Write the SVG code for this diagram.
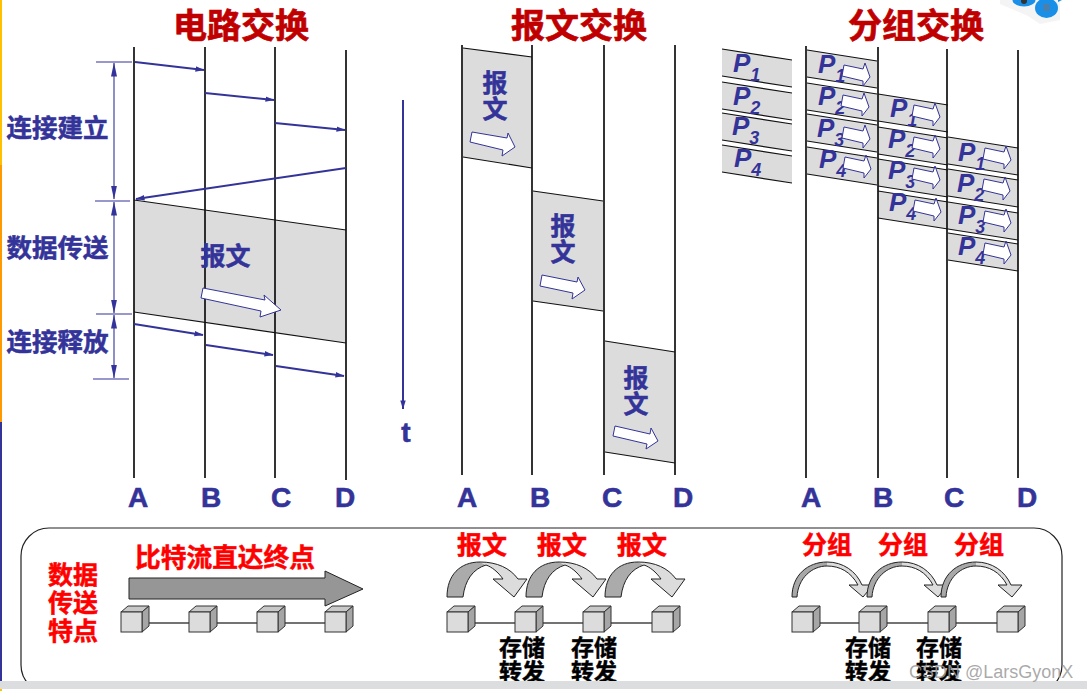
<svg xmlns="http://www.w3.org/2000/svg" width="1087" height="691" viewBox="0 0 1087 691">
<style>
.cjk{font-family:"Noto Sans CJK SC","Noto Sans",sans-serif;font-weight:700;text-anchor:middle}
.title{font-size:34px;fill:#c00000;stroke:#c00000;stroke-width:.7}
.side{font-size:25.5px;fill:#333399;stroke:#333399;stroke-width:.5}
.msg{font-size:25px;fill:#333399;stroke:#333399;stroke-width:.5}
.red{font-size:25px;fill:#ff0000;stroke:#ff0000;stroke-width:.5}
.redw{font-size:25.7px}
.blk{font-size:23px;fill:#000;stroke:#000;stroke-width:.4}
.let{font-family:"Liberation Sans",Arial,sans-serif;font-weight:700;font-size:28px;fill:#333399;stroke:#333399;stroke-width:.6;text-anchor:middle}
.p{font-family:"Liberation Sans",Arial,sans-serif;font-weight:700;font-style:italic;font-size:26px;fill:#333399}
.p tspan{font-size:18px}
.v{stroke:#111;stroke-width:1.7;fill:none}
.blue{stroke:#333399;stroke-width:2;fill:none}
.thin{stroke:#333399;stroke-width:1.1;fill:none}
.edge{stroke:#111;stroke-width:1.2;fill:none}
.fillg{fill:#dcdcdc}
.wa{fill:#fff;stroke:#333399;stroke-width:1}
.link{stroke:#444;stroke-width:1.3}
</style>
<defs>
<marker id="ah" viewBox="0 0 10 6" refX="9.5" refY="3" markerWidth="9" markerHeight="6" orient="auto" markerUnits="userSpaceOnUse"><path d="M0,0L10,3L0,6Z" fill="#333399"/></marker>
<marker id="ahd" viewBox="0 0 14 6" refX="13.5" refY="3" markerWidth="14" markerHeight="6" orient="auto" markerUnits="userSpaceOnUse"><path d="M0,0L14,3L0,6Z" fill="#333399"/></marker>
<marker id="ahds" viewBox="0 0 14 6" refX="0.5" refY="3" markerWidth="14" markerHeight="6" orient="auto" markerUnits="userSpaceOnUse"><path d="M14,0L0,3L14,6Z" fill="#333399"/></marker>
<g id="pkt"><polygon class="fillg" points="0,0 70,11 70,38 0,27"/><path class="edge" d="M0,0L70,11M0,27L70,38"/></g>
<polygon id="sa" class="wa" points="37,15 56,19 58,13 63,27 56,36 56,31 35,26"/>
<g id="cube">
<polygon points="0,6 7,0 28,0 21,6" fill="#c8c8c8" stroke="#333" stroke-width="1"/>
<polygon points="21,6 28,0 28,20 21,26" fill="#a6a6a6" stroke="#333" stroke-width="1"/>
<rect x="0" y="6" width="21" height="20" fill="#dcdcdc" stroke="#333" stroke-width="1"/>
</g>
<g id="carc">
<path d="M447,597C447,575 460,562 480,562L486,565C473,569 465,580 463,597Z" fill="#ababab"/>
<path d="M480,562C497,562 510,568 518,579L527,579L514,597L493,579L503,579C498,572 492,567 486,565Z" fill="#dcdcdc"/>
<path d="M447,597C447,575 460,562 480,562C497,562 510,568 518,579L527,579L514,597L493,579L503,579C498,572 492,567 486,565C473,569 465,580 463,597Z" fill="none" stroke="#222" stroke-width="1"/>
</g>
<g id="parc">
<path d="M792,597C792,575 808,562 827,562L827,566C812,566 798,578 797,597Z" fill="#a8a8a8"/>
<path d="M827,562C843,562 856,571 862,585L873,585L863,597L849,585L858,585C851,572 840,566 827,566Z" fill="#dcdcdc"/>
<path d="M792,597C792,575 808,562 827,562C843,562 856,571 862,585L873,585L863,597L849,585L858,585C851,572 840,566 827,566C812,566 798,578 797,597Z" fill="none" stroke="#222" stroke-width="1"/>
</g>
</defs>
<rect width="1087" height="691" fill="#fff"/>

<g id="slide-edge">
<rect x="0" y="0" width="2" height="165" fill="#ffc000"/>
<rect x="0" y="165" width="2" height="257" fill="#ff9900"/>
<rect x="0" y="422" width="2" height="259" fill="#333399"/>
</g>
<g id="corner-badge">
<path d="M1000,4L1028,16L1040,24L1060,20L1060,0L1000,0Z" fill="#f4f4f4"/>
<ellipse cx="1046.500" cy="8" rx="11.500" ry="10" fill="#1a8fe8"/>
<ellipse cx="1024" cy="0" rx="11.500" ry="6.500" fill="#1a8fe8"/>
<rect x="1043.500" y="4" width="6" height="7" fill="#4f7ea8"/>
<circle cx="1024" cy="1" r="3" fill="#333"/>
<path d="M1058,2L1062,0L1058,0Z" fill="#1a8fe8"/>
</g>

<g id="titles">
<text class="cjk title" x="241" y="38">电路交换</text>
<text class="cjk title" x="579" y="38">报文交换</text>
<text class="cjk title" x="916" y="38">分组交换</text>
</g>

<g id="circuit">
<polygon class="fillg" points="134,200 346,230 346,343 134,312"/>
<path class="edge" d="M134,200L346,230M134,312L346,343"/>
<path class="v" d="M134,47V478M205,47V478M275,47V478M346,50V480"/>
<text class="cjk side" x="57.500" y="137">连接建立</text>
<text class="cjk side" x="57.500" y="257">数据传送</text>
<text class="cjk side" x="57.500" y="351">连接释放</text>
<text class="cjk msg" x="225.500" y="265">报文</text>
<polygon class="wa" points="203,288 265,300 264,295 281,310 260,317 261,311 201,298"/>
</g>

<g id="message">
<polygon class="fillg" points="463,48 532,57 532,168 463,157"/>
<polygon class="fillg" points="533,191 603,201 603,311 533,301"/>
<polygon class="fillg" points="605,341 675,352 675,463 605,452"/>
<path class="edge" d="M463,48L532,57M463,157L532,168M533,191L603,201M533,301L603,311M605,341L675,352M605,452L675,463"/>
<path class="v" d="M462,45V475M532,45V475M604,45V475M675,45V475"/>
<text class="cjk msg" x="495" y="92">报</text><text class="cjk msg" x="495" y="118">文</text>
<polygon class="wa" points="472,132 507,138 508,133 515,147 502,156 503,150 470,142"/>
<text class="cjk msg" x="563" y="235">报</text><text class="cjk msg" x="563" y="261">文</text>
<polygon class="wa" points="542,275 577,282 578,277 585,290 572,299 573,293 540,286"/>
<text class="cjk msg" x="636" y="387">报</text><text class="cjk msg" x="636" y="413">文</text>
<polygon class="wa" points="615,426 650,434 651,428 658,441 646,449 647,444 613,436"/>
</g>

<g id="packet">
<use href="#pkt" x="722" y="49"/><use href="#pkt" x="722" y="82"/><use href="#pkt" x="722" y="113"/><use href="#pkt" x="722" y="145"/>
<text class="p" x="733" y="72">P<tspan dy="9">1</tspan></text>
<text class="p" x="733" y="105">P<tspan dy="9">2</tspan></text>
<text class="p" x="732" y="135">P<tspan dy="9">3</tspan></text>
<text class="p" x="734" y="167">P<tspan dy="9">4</tspan></text>

<use href="#pkt" x="807" y="50"/><use href="#pkt" x="807" y="83"/><use href="#pkt" x="807" y="114"/><use href="#pkt" x="807" y="147"/>
<use href="#pkt" x="878" y="94"/><use href="#pkt" x="878" y="127"/><use href="#pkt" x="878" y="159"/><use href="#pkt" x="878" y="191"/>
<use href="#pkt" x="948" y="137"/><use href="#pkt" x="948" y="169"/><use href="#pkt" x="948" y="202"/><use href="#pkt" x="948" y="233"/>
<path class="v" d="M806,46V478M878,47V478M947,49V478M1018,50V478"/>
<text class="p" x="818" y="73">P<tspan dy="9">1</tspan></text>
<text class="p" x="818" y="105">P<tspan dy="9">2</tspan></text>
<text class="p" x="817" y="137">P<tspan dy="9">3</tspan></text>
<text class="p" x="819" y="168">P<tspan dy="9">4</tspan></text>
<text class="p" x="890" y="117">P<tspan dy="9">1</tspan></text>
<text class="p" x="888" y="148">P<tspan dy="9">2</tspan></text>
<text class="p" x="888" y="179">P<tspan dy="9">3</tspan></text>
<text class="p" x="889" y="211">P<tspan dy="9">4</tspan></text>
<text class="p" x="958" y="161">P<tspan dy="9">1</tspan></text>
<text class="p" x="957" y="192">P<tspan dy="9">2</tspan></text>
<text class="p" x="958" y="224">P<tspan dy="9">3</tspan></text>
<text class="p" x="958" y="255">P<tspan dy="9">4</tspan></text>
<use href="#sa" x="807" y="50"/><use href="#sa" x="806" y="80"/><use href="#sa" x="807" y="112"/><use href="#sa" x="808" y="142"/>
<use href="#sa" x="877" y="90"/><use href="#sa" x="877" y="122"/><use href="#sa" x="877" y="153"/><use href="#sa" x="878" y="185"/>
<use href="#sa" x="948" y="133"/><use href="#sa" x="947" y="164"/><use href="#sa" x="948" y="196"/><use href="#sa" x="948" y="228"/>
</g>

<g id="connectors">
<path class="blue" marker-end="url(#ah)" d="M135,62L204,70"/>
<path class="blue" marker-end="url(#ah)" d="M205,93L274,100"/>
<path class="blue" marker-end="url(#ah)" d="M275,123L345,130"/>
<path class="blue" marker-end="url(#ah)" d="M346,168L136,199"/>
<path class="blue" marker-end="url(#ah)" d="M134,324L203,335"/>
<path class="blue" marker-end="url(#ah)" d="M206,345L273,355"/>
<path class="blue" marker-end="url(#ah)" d="M276,366L344,376"/>
<path class="thin" d="M96,62H132M95,201H130M96,314H132M93,379H129"/>
<path class="thin" marker-start="url(#ahds)" marker-end="url(#ahd)" d="M114,63V199"/>
<path class="thin" marker-start="url(#ahds)" marker-end="url(#ahd)" d="M114,202V313"/>
<path class="thin" marker-start="url(#ahds)" marker-end="url(#ahd)" d="M114,315V378"/>
<path class="blue" marker-end="url(#ah)" d="M403,100V409"/>
</g>

<g id="axis-labels">
<text class="let" x="138" y="507">A</text><text class="let" x="211" y="507">B</text><text class="let" x="281" y="507">C</text><text class="let" x="345" y="507">D</text>
<text class="let" x="406" y="442">t</text>
<text class="let" x="467" y="507">A</text><text class="let" x="540" y="507">B</text><text class="let" x="612" y="507">C</text><text class="let" x="683" y="507">D</text>
<text class="let" x="811" y="507">A</text><text class="let" x="883" y="507">B</text><text class="let" x="954" y="507">C</text><text class="let" x="1027" y="507">D</text>
</g>

<g id="summary">
<rect x="21" y="528" width="1041" height="165" rx="28" fill="#fff" stroke="#222" stroke-width="1.2"/>
<text class="cjk red" x="73" y="584">数据</text>
<text class="cjk red" x="73" y="612">传送</text>
<text class="cjk red" x="73" y="640">特点</text>
<text class="cjk red redw" x="225" y="567">比特流直达终点</text>
<polygon points="129,578 325,578 325,571 363,589 325,606 325,599 129,599" fill="#969696" stroke="#222" stroke-width="1"/>
<g id="circuit-chain">
<path class="link" d="M132,623H335"/>
<use href="#cube" x="121" y="606"/><use href="#cube" x="189" y="606"/><use href="#cube" x="257" y="606"/><use href="#cube" x="325" y="606"/>
</g>
<g id="message-chain">
<text class="cjk red" x="482" y="554">报文</text><text class="cjk red" x="562" y="554">报文</text><text class="cjk red" x="642" y="554">报文</text>
<use href="#carc"/><use href="#carc" x="79"/><use href="#carc" x="158"/>
<path class="link" d="M458,623H662"/>
<use href="#cube" x="447" y="606"/><use href="#cube" x="515" y="606"/><use href="#cube" x="583" y="606"/><use href="#cube" x="652" y="606"/>
<text class="cjk blk" x="522" y="656">存储</text><text class="cjk blk" x="522" y="680">转发</text>
<text class="cjk blk" x="594" y="656">存储</text><text class="cjk blk" x="594" y="680">转发</text>
</g>
<g id="packet-chain">
<text class="cjk red" x="827" y="554">分组</text><text class="cjk red" x="903" y="554">分组</text><text class="cjk red" x="979" y="554">分组</text>
<use href="#parc"/><use href="#parc" x="75"/><use href="#parc" x="149"/>
<path class="link" d="M803,623H1007"/>
<use href="#cube" x="792" y="606"/><use href="#cube" x="859" y="606"/><use href="#cube" x="928" y="606"/><use href="#cube" x="997" y="606"/>
<text class="cjk blk" x="868" y="656">存储</text><text class="cjk blk" x="868" y="680">转发</text>
<text class="cjk blk" x="939" y="656">存储</text><text class="cjk blk" x="939" y="680">转发</text>
</g>
</g>

<g id="footer">
<rect x="0" y="681" width="1087" height="8" fill="#dcddde"/>
<rect x="0" y="689" width="1087" height="2" fill="#fff"/>
<rect x="0" y="689" width="2" height="2" fill="#ffc000"/>
</g>
<text x="909" y="678" font-family="Liberation Sans,Arial,sans-serif" font-size="18" fill="#9a9a9a" fill-opacity=".85">CSDN @LarsGyonX</text>
</svg>
